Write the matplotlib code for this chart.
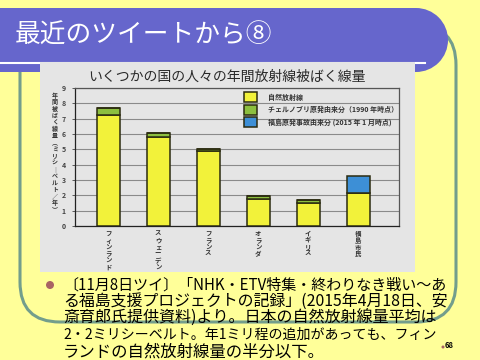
import numpy as np
import matplotlib.pyplot as plt
from matplotlib.patches import Rectangle, Circle, FancyBboxPatch

plt.rcParams['font.family'] = ['Noto Sans CJK JP', 'DejaVu Sans']

# data
countries = ['フィンランド', 'スウェーデン', 'フランス', 'オランダ', 'イギリス', '福島市民']
natural = [7.23, 5.78, 4.86, 1.79, 1.53, 2.12]
chernobyl = [0.44, 0.26, 0.15, 0.15, 0.15, 0.0]
fukushima = [0.0, 0.0, 0.0, 0.0, 0.0, 1.13]
legend_labels = ['自然放射線', 'チェルノブリ原発由来分（1990 年時点）', '福島原発事故由来分 (2015 年 1 月時点)']

slide_title = '最近のツイートから⑧'
chart_title = 'いくつかの国の人々の年間放射線被ばく線量'
ylabel = '年間被ばく線量︵ミリシ｜ベルト／年︶'
body = ['〔11月8日ツイ〕「NHK・ETV特集・終わりなき戦い～あ',
        'る福島支援プロジェクトの記録」(2015年4月18日、安',
        '斎育郎氏提供資料)より。日本の自然放射線量平均は',
        '2・2ミリシーベルト。年1ミリ程の追加があっても、フィン',
        'ランドの自然放射線量の半分以下。']
body_right = [447, 448, 437, 436, 333]   # right end of each line in the slide
page = '68'

fig = plt.figure(figsize=(4.8, 3.6), dpi=100)
fig.patch.set_facecolor('#FFFF99')

# slide decoration in pixel coords
bg = fig.add_axes([0, 0, 1, 1])
bg.set_xlim(0, 480)
bg.set_ylim(360, 0)
bg.axis('off')

bg.add_patch(FancyBboxPatch((20, 25), 436, 297, boxstyle='round,pad=0,rounding_size=40',
                            fill=False, ec='#739E8C', lw=2.2, zorder=1))
bg.add_patch(Rectangle((0, 8), 416, 64, fc='#6666CC', ec='none', zorder=2))
bg.add_patch(Circle((416, 40), 32, fc='#6666CC', ec='none', zorder=2))
bg.plot([0, 425], [63, 63], color='white', lw=1.5, zorder=3)
bg.add_patch(Rectangle((40, 62), 375, 210, fc='#E5E5E5', ec='none', zorder=4))

bg.text(15, 36, slide_title, color='white', fontsize=18.5, va='center', ha='left', zorder=5)
bg.text(227, 77, chart_title, color='#2a2a2a', fontsize=10, va='center', ha='center', zorder=5)
bg.text(55, 152, '\n'.join(ylabel), fontsize=4.3, fontweight='bold', color='#333333',
        va='center', ha='center', linespacing=0.95, zorder=5)

# bullet text, each line sized to end where the slide's line ends
renderer = fig.canvas.get_renderer()
bg.add_patch(Circle((50, 285), 4, fc='#A86464', ec='none', zorder=5))
for i, line in enumerate(body):
    t = bg.text(63, 285 + i * 16.7, line, fontsize=12, va='center', ha='left',
                color='black', zorder=5)
    wpx = t.get_window_extent(renderer).width
    t.set_fontsize(min(11.8, 12 * (body_right[i] - 63) / wpx))
bg.add_patch(Circle((443, 347), 1.5, fc='#A86464', ec='none', zorder=5))
bg.text(445, 346, page, fontsize=5.5, fontweight='bold', va='center', ha='left', zorder=5)

# the chart
ax = fig.add_axes([75 / 480, (360 - 226) / 360, 324 / 480, 138 / 360])
ax.set_facecolor('none')
x = np.arange(len(countries))
w = 0.46
b1 = ax.bar(x, natural, w, color='#F2F23A', edgecolor='#2b2b10', lw=1.1, zorder=3)
b2 = ax.bar(x, chernobyl, w, bottom=natural, color='#8CBF3F', edgecolor='#2b2b10', lw=1.1, zorder=3)
bottom2 = [a + b for a, b in zip(natural, chernobyl)]
b3 = ax.bar(x, fukushima, w, bottom=bottom2, color='#3D8FD6', edgecolor='#2b2b10', lw=1.1, zorder=3)

ax.set_xlim(-0.66, 5.82)
ax.set_ylim(0, 9)
ax.set_yticks(range(10))
ax.yaxis.grid(True, color='#8a8a8a', lw=0.8, zorder=0)
ax.tick_params(axis='y', labelsize=5, length=2.5, width=0.6, colors='#444444', pad=4)
for t in ax.get_yticklabels():
    t.set_fontweight('bold')
ax.set_xticks(x)
ax.set_xticklabels(['\n'.join(c) for c in countries], fontsize=4.6, fontweight='bold',
                   color='#333333', va='top', linespacing=0.95)
ax.tick_params(axis='x', length=0, pad=3)
for s in ax.spines.values():
    s.set_color('#555555')
    s.set_linewidth(0.9)
ax.spines['left'].set_color('#222222')
ax.spines['bottom'].set_color('#222222')

ax.legend([b1, b2, b3], legend_labels, loc='upper left', bbox_to_anchor=(0.51, 1.0),
          frameon=False, prop={'size': 5, 'weight': 'bold'}, labelcolor='#333333',
          handlelength=1.8, handleheight=1.9, labelspacing=0.3, handletextpad=1.6,
          borderaxespad=0.2)

fig.savefig('out.png', dpi=100, facecolor=fig.get_facecolor())
